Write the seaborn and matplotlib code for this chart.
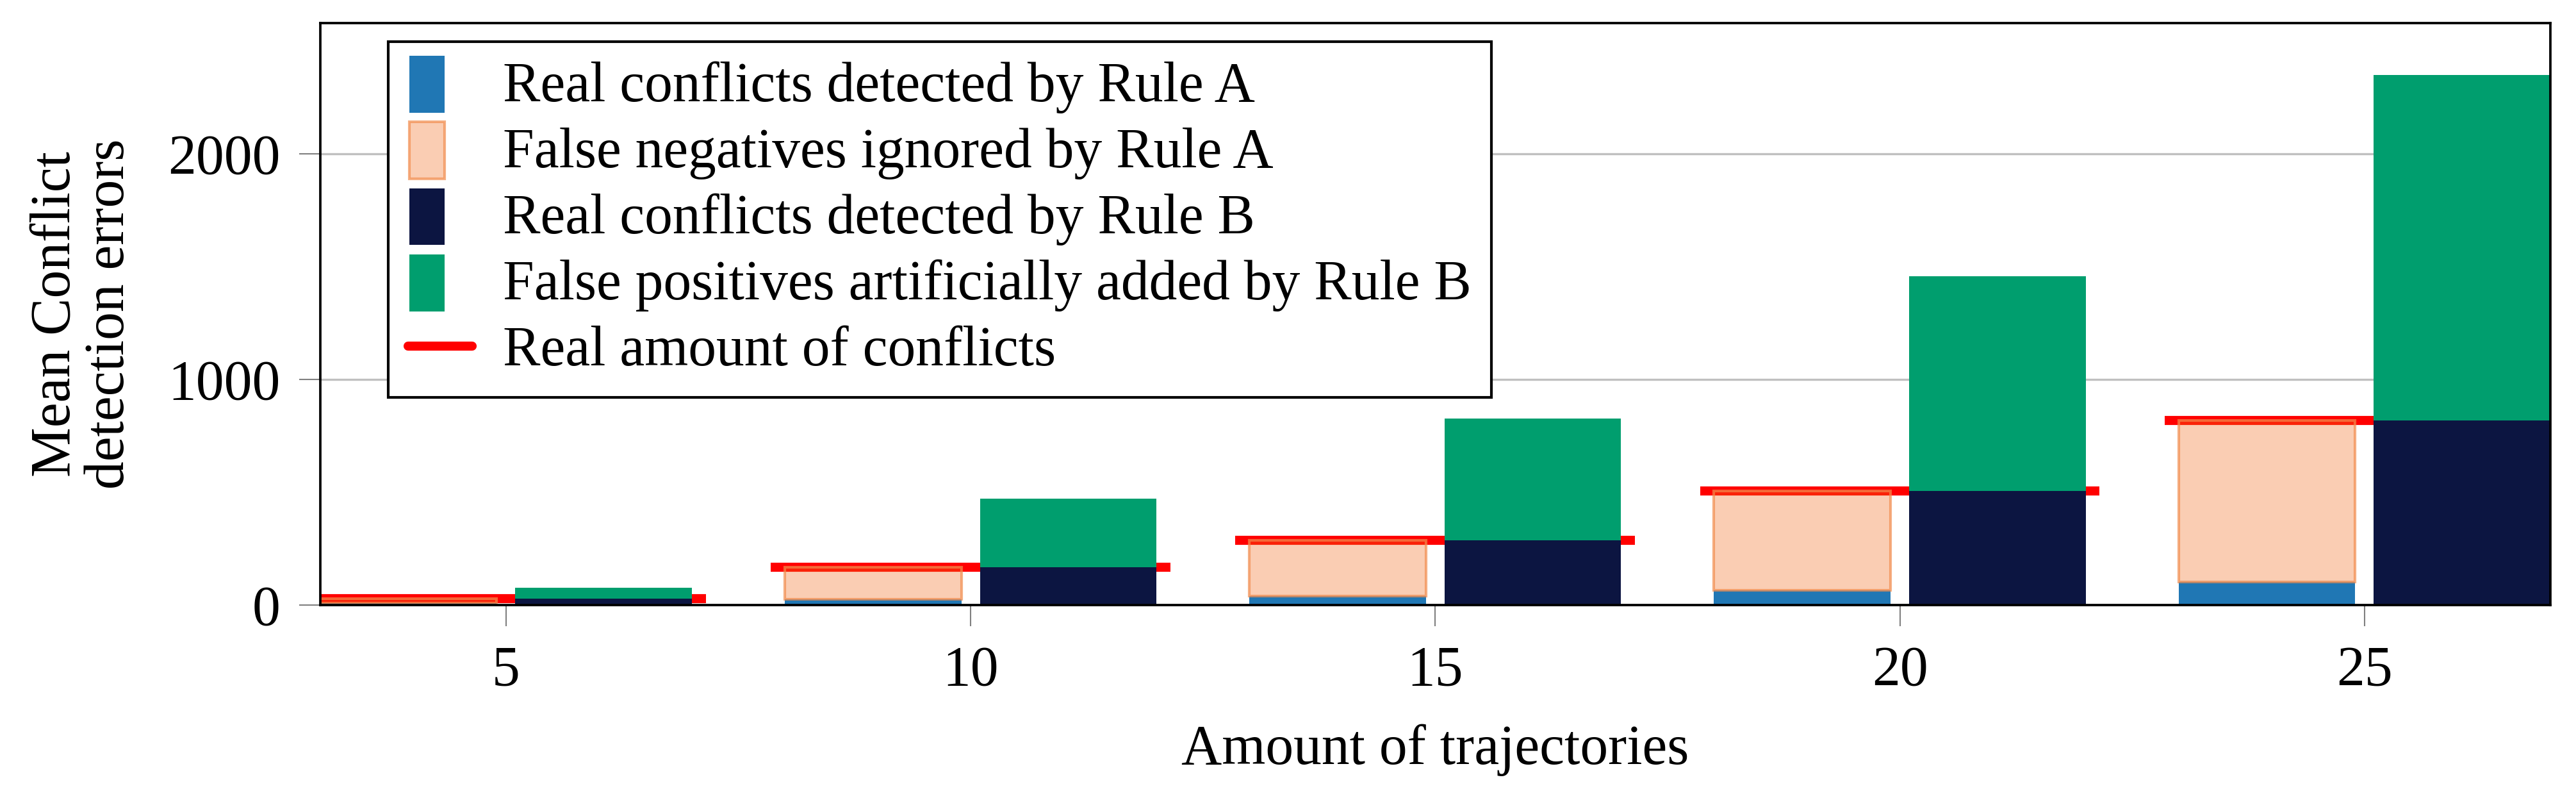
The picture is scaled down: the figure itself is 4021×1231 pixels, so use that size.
import matplotlib
matplotlib.use("Agg")
import matplotlib.pyplot as plt
import matplotlib.patches as mpatches
from matplotlib.lines import Line2D
from matplotlib.legend_handler import HandlerPatch
import seaborn as sns
import numpy as np

# values
trajectories = [5, 10, 15, 20, 25]
real_conflicts = [28, 168, 288, 507, 818]
detected_rule_a = [9, 26, 40, 66, 103]
false_positives_rule_b = [49, 303, 540, 950, 1532]

labels = [
    "Real conflicts detected by Rule A",
    "False negatives ignored by Rule A",
    "Real conflicts detected by Rule B",
    "False positives artificially added by Rule B",
    "Real amount of conflicts",
]

BLUE = "#2077b4"
PEACH = (0.94, 0.41, 0.10, 0.33)
PEACH_EDGE = (0.95, 0.55, 0.30, 0.7)
NAVY = "#0c1541"
GREEN = "#009e6e"
RED = "#ff0000"

sns.set_theme(style="whitegrid")
plt.rcParams["font.family"] = ["Liberation Serif", "DejaVu Serif"]
plt.rcParams["text.color"] = "black"
plt.rcParams["axes.labelcolor"] = "black"

FS = 21

x = np.array(trajectories, dtype=float)
real = np.array(real_conflicts, dtype=float)
det_a = np.array(detected_rule_a, dtype=float)
false_neg = real - det_a
false_pos = np.array(false_positives_rule_b, dtype=float)

bar_w = 1.9
shift = 1.05

fig, ax = plt.subplots(figsize=(4021 / 300, 1231 / 300), dpi=300)
fig.subplots_adjust(left=0.1243, right=0.990, bottom=0.2331, top=0.971)
ax.set_facecolor("white")

# red reference lines first, bars drawn over them
ax.hlines(real, x - 2.15, x + 2.15, color=RED, lw=3.4, zorder=2)

# Rule A (left bars)
ax.bar(x - shift, det_a, width=bar_w, color=BLUE, lw=0, zorder=3)
ax.bar(x - shift, false_neg, width=bar_w, bottom=det_a, facecolor=PEACH,
       edgecolor=PEACH_EDGE, lw=1.0, zorder=3)

# Rule B (right bars)
ax.bar(x + shift, real, width=bar_w, color=NAVY, lw=0, zorder=3)
ax.bar(x + shift, false_pos, width=bar_w, bottom=real, color=GREEN, lw=0, zorder=3)

ax.set_xlim(3, 27)
ax.set_ylim(0, 2580)
ax.set_xticks(trajectories)
ax.set_yticks([0, 1000, 2000])

ax.grid(False)
ax.yaxis.grid(True, color="#c0c0c0", lw=0.8, zorder=0)
ax.set_axisbelow(True)
for s in ax.spines.values():
    s.set_color("black")
    s.set_linewidth(0.9)
    s.set_zorder(5)

ax.tick_params(axis="both", which="major", direction="out", length=8, width=0.5,
               color="#808080", labelsize=FS, pad=7, labelcolor="black",
               bottom=True, left=True)

ax.set_xlabel("Amount of trajectories", fontsize=FS, labelpad=10)
ax.set_ylabel("Mean Conflict\ndetection errors", fontsize=FS, labelpad=12,
              linespacing=1.05)


def narrow_patch(legend, orig_handle, xdescent, ydescent, width, height, fontsize):
    return mpatches.Rectangle((-xdescent + width * 0.02, -ydescent - height * 0.3),
                              width * 0.55, height * 1.45)


handles = [
    mpatches.Patch(facecolor=BLUE, lw=0),
    mpatches.Patch(facecolor=PEACH, edgecolor=PEACH_EDGE, lw=1.0),
    mpatches.Patch(facecolor=NAVY, lw=0),
    mpatches.Patch(facecolor=GREEN, lw=0),
    Line2D([0], [0], color=RED, lw=3.4),
]
leg = ax.legend(handles, labels, loc="upper left", bbox_to_anchor=(0.0305, 0.968),
                fontsize=FS, frameon=True, fancybox=False, framealpha=1,
                edgecolor="black", borderpad=0.35, labelspacing=0.25,
                handlelength=1.15, handletextpad=0.55, borderaxespad=0,
                labelcolor="black",
                handler_map={mpatches.Patch: HandlerPatch(patch_func=narrow_patch)})
leg.get_frame().set_linewidth(1.0)
leg.set_zorder(6)

fig.savefig("out.png", dpi=300, facecolor="white")
